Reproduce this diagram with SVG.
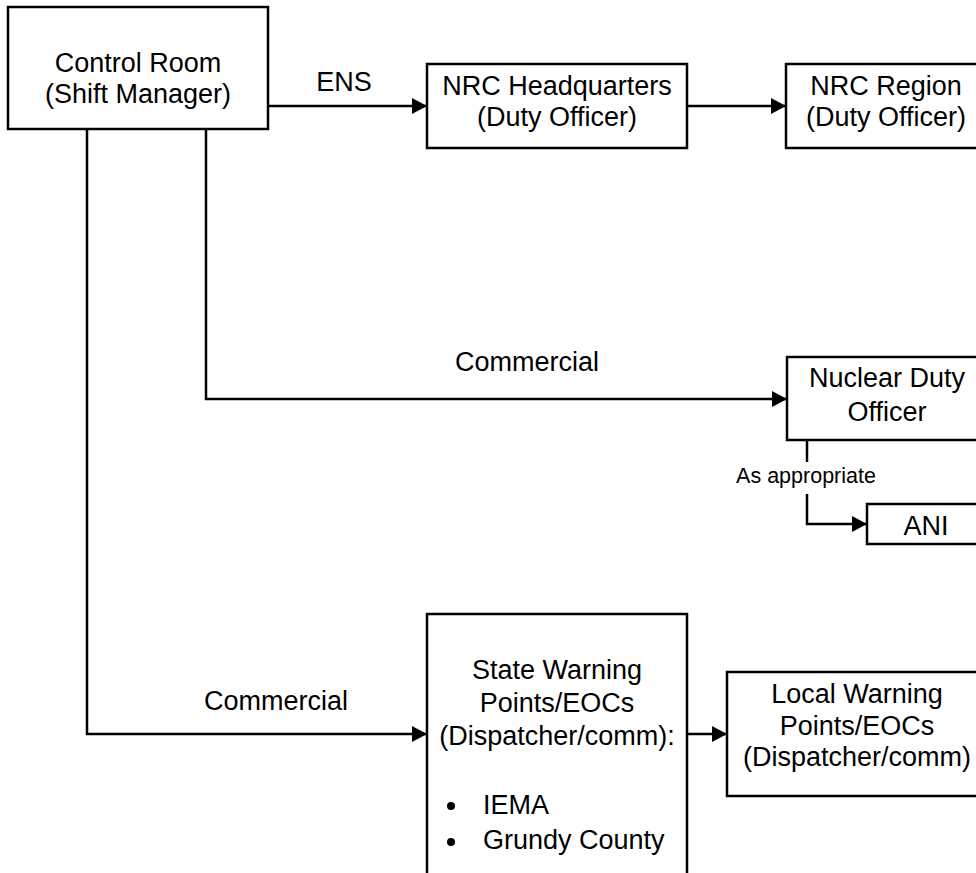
<svg xmlns="http://www.w3.org/2000/svg" width="976" height="873" viewBox="0 0 976 873">
<defs>
<style>
.box{fill:#fff;stroke:#000;stroke-width:2.5}
.ln{fill:none;stroke:#000;stroke-width:2.5}
text{font-family:"Liberation Sans",Arial,sans-serif;font-size:27px;fill:#000;text-anchor:middle}
.sm{font-size:21.5px}
.lt{text-anchor:start}
</style>
<marker id="ah" markerUnits="userSpaceOnUse" markerWidth="15" markerHeight="16" refX="15" refY="8" orient="auto">
<path d="M0,0 L15,8 L0,16 z" fill="#000"/>
</marker>
</defs>
<rect width="976" height="873" fill="#fff"/>
<g id="connectors">
<path class="ln" d="M268,106 H427" marker-end="url(#ah)"/>
<path class="ln" d="M687,106 H786" marker-end="url(#ah)"/>
<path class="ln" d="M87,129 V734 H427" marker-end="url(#ah)"/>
<path class="ln" d="M206,129 V399 H787" marker-end="url(#ah)"/>
<path class="ln" d="M807,440 V462"/>
<path class="ln" d="M807,494 V524 H867" marker-end="url(#ah)"/>
<path class="ln" d="M687,734 H727" marker-end="url(#ah)"/>
<text x="344" y="91">ENS</text>
<text x="527" y="371">Commercial</text>
<text x="276" y="710">Commercial</text>
<text class="sm" x="806" y="483">As appropriate</text>
</g>
<g id="control-room">
<rect class="box" x="8" y="7" width="260" height="122"/>
<text x="138" y="72">Control Room</text>
<text x="138" y="103">(Shift Manager)</text>
</g>
<g id="nrc-hq">
<rect class="box" x="427" y="64" width="260" height="84"/>
<text x="557" y="95">NRC Headquarters</text>
<text x="557" y="126">(Duty Officer)</text>
</g>
<g id="nrc-region">
<rect class="box" x="786" y="64" width="200" height="84"/>
<text x="886" y="95">NRC Region</text>
<text x="886" y="126">(Duty Officer)</text>
</g>
<g id="nuclear-duty-officer">
<rect class="box" x="787" y="357" width="200" height="83"/>
<text x="887" y="387">Nuclear Duty</text>
<text x="887" y="421">Officer</text>
</g>
<g id="ani">
<rect class="box" x="867" y="504" width="118" height="40"/>
<text x="926" y="535">ANI</text>
</g>
<g id="state-warning">
<rect class="box" x="427" y="614" width="260" height="280"/>
<text x="557" y="679">State Warning</text>
<text x="557" y="712">Points/EOCs</text>
<text x="557" y="745">(Dispatcher/comm):</text>
<circle cx="451" cy="806" r="4"/>
<text class="lt" x="483" y="814">IEMA</text>
<circle cx="451" cy="842" r="4"/>
<text class="lt" x="483" y="849">Grundy County</text>
</g>
<g id="local-warning">
<rect class="box" x="727" y="672" width="260" height="124"/>
<text x="857" y="703">Local Warning</text>
<text x="857" y="735">Points/EOCs</text>
<text x="857" y="766">(Dispatcher/comm)</text>
</g>
</svg>
